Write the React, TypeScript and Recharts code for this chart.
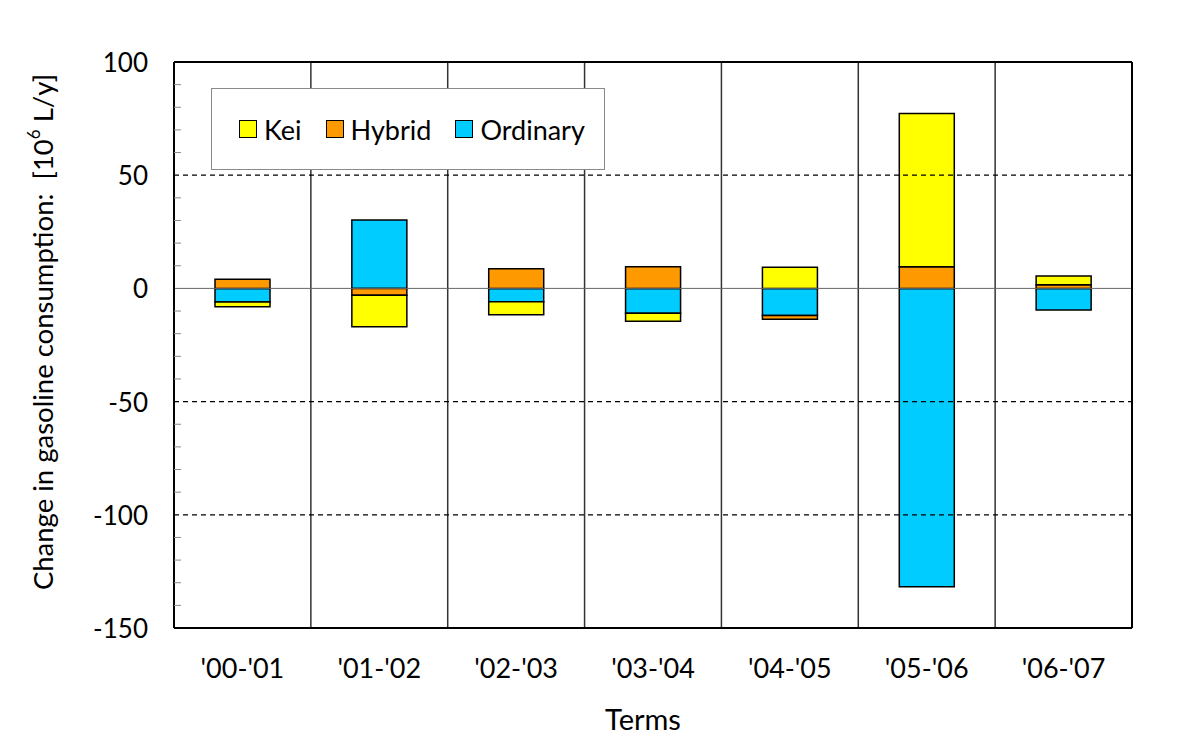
import { BarChart, Bar, XAxis, YAxis, ReferenceLine, CartesianGrid, Legend } from "recharts"

const terms = ["'00-'01", "'01-'02", "'02-'03", "'03-'04", "'04-'05", "'05-'06", "'06-'07"]
const kei = [-2.1, -13.9, -5.7, -3.5, 9.3, 67.7, 3.9]
const hybrid = [4.0, -3.0, 8.7, 9.6, -1.6, 9.6, 1.6]
const ordinary = [-6.0, 30.2, -5.9, -11.0, -12.0, -131.8, -9.5]

const yTicks = [-150, -140, -130, -120, -110, -100, -90, -80, -70, -60, -50, -40, -30, -20, -10, 0, 10, 20, 30, 40, 50, 60, 70, 80, 90, 100]
const dashedLines = [50, -50, -100]

// stacking order: first series sits next to zero
const series = [
  { key: "Ordinary", color: "#00CCFF" },
  { key: "Hybrid", color: "#FF9900" },
  { key: "Kei", color: "#FFFF00" },
]

const data = terms.map((term, i) => ({
  term,
  Kei: kei[i],
  Hybrid: hybrid[i],
  Ordinary: ordinary[i],
}))

const FONT = "Lato, 'Open Sans', sans-serif"
const FRAME = { stroke: "#000", strokeWidth: 2 }

function LegendBox() {
  const items = [...series].reverse()
  return (
    <div
      style={{
        width: "100%",
        height: "100%",
        boxSizing: "border-box",
        border: "1px solid #8a8a8a",
        background: "#fff",
        display: "flex",
        alignItems: "center",
        paddingLeft: 27,
        fontFamily: FONT,
        fontSize: 27,
        color: "#000",
      }}
    >
      {items.map((s) => (
        <div key={s.key} style={{ display: "flex", alignItems: "center", marginRight: 24 }}>
          <span
            style={{
              display: "inline-block",
              width: 16,
              height: 16,
              border: "1px solid #000",
              background: s.color,
              marginRight: 7,
            }}
          />
          <span>{s.key}</span>
        </div>
      ))}
    </div>
  )
}

function YTick(props: any) {
  const { x, y, payload } = props
  const major = payload.value % 50 === 0
  if (!major) {
    // small inward minor tick
    return <line x1={x + 26} x2={x + 33} y1={y} y2={y} stroke="#8a8a8a" strokeWidth={1} />
  }
  return (
    <text x={x} y={y} textAnchor="end" dominantBaseline="central" fontFamily={FONT} fontSize={26} fill="#000">
      {payload.value}
    </text>
  )
}

function YLabel() {
  return (
    <text
      x={42}
      y={332}
      transform="rotate(-90 42 332)"
      textAnchor="middle"
      dominantBaseline="central"
      fontFamily={FONT}
      fontSize={27.5}
      fill="#000"
    >
      Change in gasoline consumption:{"\u00a0\u00a0"}[10
      <tspan dy={-9} fontSize={17}>6</tspan>
      <tspan dy={9} fontSize={27.5}> L/y]</tspan>
    </text>
  )
}

export default function App() {
  return (
    <div style={{ position: "absolute", left: 0, top: 0, width: 1200, height: 747, background: "#fff" }}>
      <BarChart
        width={1200}
        height={747}
        data={data}
        stackOffset="sign"
        barSize={55}
        margin={{ top: 61, right: 67, left: 100, bottom: 59 }}
      >
        <CartesianGrid
          horizontal={false}
          stroke="#333"
          strokeWidth={1.5}
          verticalCoordinatesGenerator={({ offset }: any) =>
            terms.slice(1).map((_, i) => offset.left + (offset.width * (i + 1)) / terms.length)
          }
        />
        <XAxis
          dataKey="term"
          interval={0}
          axisLine={FRAME}
          tickLine={false}
          tickSize={0}
          tickMargin={31}
          height={60}
          tick={{ fontFamily: FONT, fontSize: 27, fill: "#000" }}
          label={{
            content: ({ viewBox }: any) => (
              <text
                x={viewBox.x + viewBox.width / 2 - 10}
                y={viewBox.y + 90}
                textAnchor="middle"
                dominantBaseline="central"
                fontFamily={FONT}
                fontSize={29}
                fill="#000"
              >
                Terms
              </text>
            ),
          }}
        />
        <XAxis xAxisId="top" dataKey="term" orientation="top" height={1} tick={false} tickLine={false} axisLine={FRAME} />
        <YAxis
          domain={[-150, 100]}
          ticks={yTicks}
          interval={0}
          allowDataOverflow
          axisLine={FRAME}
          tickLine={false}
          tickSize={0}
          tickMargin={26}
          width={74}
          tick={<YTick />}
          label={{ content: () => <YLabel /> }}
        />
        <YAxis
          yAxisId="right"
          orientation="right"
          domain={[-150, 100]}
          allowDataOverflow
          width={1}
          tick={false}
          tickLine={false}
          axisLine={FRAME}
        />
        <Legend
          layout="horizontal"
          verticalAlign="middle"
          align="center"
          wrapperStyle={{ left: 211, top: 88, width: 394, height: 82 }}
          content={() => <LegendBox />}
        />
        {dashedLines.map((v) => (
          <ReferenceLine key={v} y={v} stroke="#000" strokeWidth={1.3} strokeDasharray="5 4" />
        ))}
        <ReferenceLine y={0} stroke="#666" strokeWidth={1} />
        {series.map((s) => (
          <Bar
            key={s.key}
            dataKey={s.key}
            stackId="a"
            fill={s.color}
            stroke="#000"
            strokeWidth={1.5}
            isAnimationActive={false}
          />
        ))}
      </BarChart>
    </div>
  )
}
